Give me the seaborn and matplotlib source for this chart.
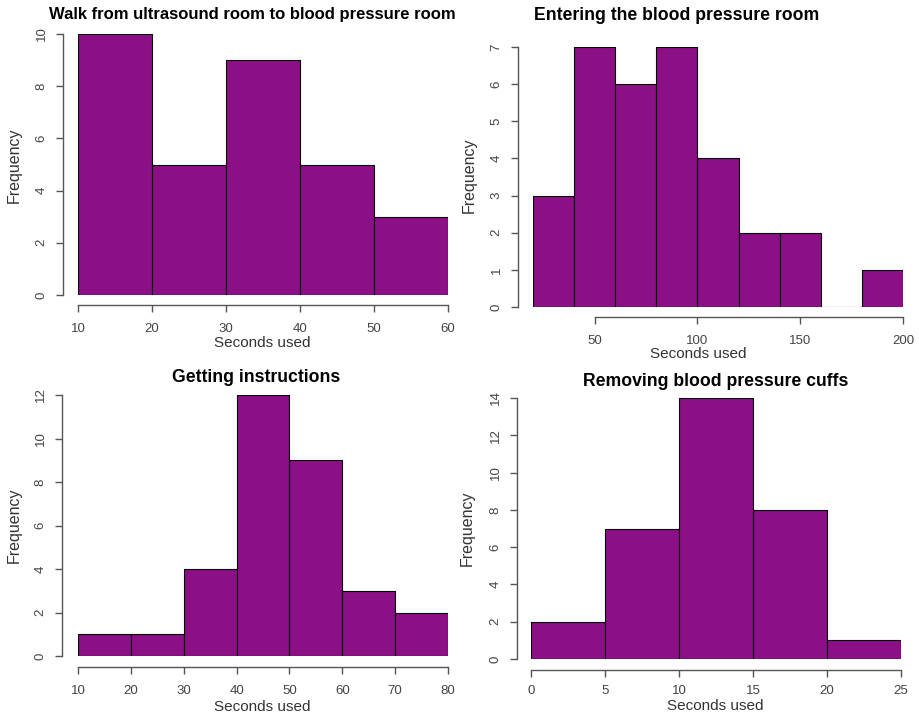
import numpy as np
import pandas as pd
import matplotlib
matplotlib.use("Agg")
import matplotlib.pyplot as plt
import seaborn as sns

# Bin edges and counts for each timed step
walk_edges = [10, 20, 30, 40, 50, 60]
walk_counts = [10, 5, 9, 5, 3]

enter_edges = [20, 40, 60, 80, 100, 120, 140, 160, 180, 200]
enter_counts = [3, 7, 6, 7, 4, 2, 2, 0, 1]

instr_edges = [10, 20, 30, 40, 50, 60, 70, 80]
instr_counts = [1, 1, 4, 12, 9, 3, 2]

cuffs_edges = [0, 5, 10, 15, 20, 25]
cuffs_counts = [2, 7, 14, 8, 1]

titles = [
    "Walk from ultrasound room to blood pressure room",
    "Entering the blood pressure room",
    "Getting instructions",
    "Removing blood pressure cuffs",
]
xticks = [
    [10, 20, 30, 40, 50, 60],
    [50, 100, 150, 200],
    [10, 20, 30, 40, 50, 60, 70, 80],
    [0, 5, 10, 15, 20, 25],
]
yticks = [
    [0, 2, 4, 6, 8, 10],
    [0, 1, 2, 3, 4, 5, 6, 7],
    [0, 2, 4, 6, 8, 10, 12],
    [0, 2, 4, 6, 8, 10, 12, 14],
]

sns.set_theme(style="white")
plt.rcParams["font.family"] = ["Liberation Sans", "DejaVu Sans"]

W, H = 919, 717
fig = plt.figure(figsize=(W / 100, H / 100), dpi=100)
fill = "#8b1086"
axis_col = "#555555"

# Panel geometry in pixels: plot region, spine positions and text centers
layout = [
    dict(px=(78, 448), py=(34, 295), lsp=63, bsp=305, tsize=12.0, xpad=8,
         title=(252, 14), xlab=(262, 343), ylab=(14, 165)),
    dict(px=(533, 903), py=(47, 307), lsp=518, bsp=317, tsize=12.7, xpad=8,
         title=(677, 15), xlab=(698, 354), ylab=(469, 175)),
    dict(px=(78, 448), py=(395, 656), lsp=62, bsp=667, tsize=12.7, xpad=8,
         title=(256, 377), xlab=(262, 707), ylab=(14, 525)),
    dict(px=(531, 901), py=(398, 659), lsp=517, bsp=670, tsize=12.7, xpad=6,
         title=(716, 381), xlab=(715, 706), ylab=(467, 528)),
]

panels = [
    (walk_edges, walk_counts),
    (enter_edges, enter_counts),
    (instr_edges, instr_counts),
    (cuffs_edges, cuffs_counts),
]

pt = 72 / 100  # points per pixel

for i, ((edges, counts), lay) in enumerate(zip(panels, layout)):
    x0, x1 = lay["px"]
    yt, yb = lay["py"]
    ax = fig.add_axes([x0 / W, 1 - yb / H, (x1 - x0) / W, (yb - yt) / H])
    centers = [(a + b) / 2 for a, b in zip(edges[:-1], edges[1:])]
    df = pd.DataFrame({"seconds": centers, "count": counts})
    sns.histplot(data=df, x="seconds", weights="count", bins=list(edges),
                 color=fill, alpha=1, edgecolor="black", linewidth=0.8,
                 ax=ax)
    ax.set_xlim(edges[0], edges[-1])
    ax.set_ylim(0, max(yticks[i]))
    ax.set_xlabel("")
    ax.set_ylabel("")
    ax.patch.set_alpha(0)
    for s in ["top", "right"]:
        ax.spines[s].set_visible(False)
    ax.spines["left"].set_position(("outward", (x0 - lay["lsp"]) * pt))
    ax.spines["bottom"].set_position(("outward", (lay["bsp"] - yb) * pt))
    ax.spines["left"].set_bounds(min(yticks[i]), max(yticks[i]))
    ax.spines["bottom"].set_bounds(min(xticks[i]), max(xticks[i]))
    for s in ["left", "bottom"]:
        ax.spines[s].set_color(axis_col)
        ax.spines[s].set_linewidth(1.0)
    ax.set_xticks(xticks[i])
    ax.set_yticks(yticks[i])
    ax.set_yticklabels([str(v) for v in yticks[i]], rotation=90, va="center")
    ax.tick_params(axis="both", which="major", length=5, width=1.0,
                   color=axis_col, labelcolor="#444444", labelsize=9.5,
                   direction="out", left=True, bottom=True)
    ax.tick_params(axis="y", pad=6)
    ax.tick_params(axis="x", pad=lay["xpad"])

    tx, ty = lay["title"]
    fig.text(tx / W, 1 - ty / H, titles[i], ha="center", va="center",
             fontsize=lay["tsize"], fontweight="bold", color="black")
    lx, ly = lay["xlab"]
    fig.text(lx / W, 1 - ly / H, "Seconds used", ha="center", va="center",
             fontsize=11, color="#333333")
    yx, yy = lay["ylab"]
    fig.text(yx / W, 1 - yy / H, "Frequency", ha="center", va="center",
             fontsize=11.5, color="#333333", rotation=90)

fig.savefig("out.png", dpi=100, facecolor="white")
